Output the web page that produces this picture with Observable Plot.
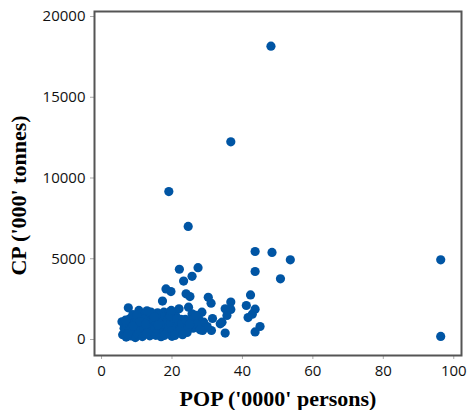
<!DOCTYPE html>
<html>
<head>
<meta charset="utf-8">
<script src="https://cdn.jsdelivr.net/npm/d3@7"></script>
<script src="https://cdn.jsdelivr.net/npm/@observablehq/plot@0.6"></script>
<style>
  html, body { margin: 0; padding: 0; background: #fff; }
  #chart { width: 469px; height: 410px; }
</style>
</head>
<body>
<div id="chart"></div>
<script>
// Population ('0000' persons) vs CP ('000' tonnes), one point per region
const pop = [
  48.1, 36.7, 19.1, 96.3, 96.3, 53.6, 50.8, 24.6, 43.6, 48.4, 43.6,
  22.1, 27.4, 25.7, 23.3, 18.3, 19.7, 24.0, 25.1, 30.3, 31.1, 17.3, 42.3, 41.1, 36.7, 36.7,
  43.6, 42.8, 41.6, 45.0, 43.6, 35.1, 31.2, 28.7, 24.3, 21.0,
  24.7, 28.5, 25.7, 17.7, 21.0, 35.1, 35.6, 34.2, 29.0, 26.6, 23.3, 20.5, 18.6, 17.2, 33.7,
  31.5, 27.5, 30.0, 26.0, 22.5,
  5.8, 6.0, 6.4, 7.0, 7.6, 7.2, 7.8, 8.1, 8.4, 8.6, 8.9, 9.1, 9.3, 9.6, 9.8, 10.1, 10.4,
  10.6, 10.9, 11.1, 11.3, 11.6, 11.8, 12.1, 12.4, 12.6, 12.9, 13.1, 13.4, 13.7, 13.9, 14.1,
  14.4, 14.6, 14.9, 15.1, 15.4, 15.6, 15.9, 16.1, 16.4, 16.7, 16.9, 17.1, 17.6, 17.9, 18.1,
  18.4, 18.7, 19.0, 19.3, 19.6, 19.9, 20.2, 21.4, 21.9, 22.2, 12.0, 14.0, 10.0, 8.0, 9.0,
  11.0, 13.0, 15.0, 16.0, 20.0, 6.8, 7.5, 12.5, 17.8, 19.5,
  19.8, 21.5, 22.8, 23.8, 24.5, 25.5, 27.0, 28.0, 26.8, 22.0, 20.8, 23.0, 25.0
];
const cp = [
  18160, 12240, 9160, 4935, 190, 4935, 3760, 7000, 5450, 5390, 4210,
  4350, 4450, 3910, 3620, 3130, 2970, 2830, 2660, 2610, 2250, 2380, 2760, 2105, 2320, 1860,
  1880, 1570, 1360, 805, 470, 400, 557, 557, 440, 390,
  2000, 1690, 1590, 1690, 1486, 1900, 1486, 1071, 1071, 1071, 867, 972, 662, 452, 972,
  1300, 1350, 800, 700, 1250,
  1100, 300, 700, 150, 1960, 900, 480, 1300, 220, 800, 1550, 400, 1050, 120, 650, 1200, 320,
  1800, 850, 520, 1400, 180, 1000, 700, 1600, 350, 1780, 1100, 600, 230, 1350, 900,
  450, 1500, 1200, 700, 260, 1000, 1650, 520, 1300, 820, 170, 1100, 600, 1450, 920,
  360, 1250, 720, 1700, 1000, 520, 1350, 800, 1150, 600, 1250, 1700, 1500, 600, 850,
  1100, 400, 1400, 900, 200, 1200, 350, 950, 250, 1450,
  1800, 1300, 1000, 1250, 800, 1200, 950, 600, 1500, 1900, 250, 300, 950
];

const xTicks = [0, 20, 40, 60, 80, 100];
const yTicks = [0, 5000, 10000, 15000, 20000];
const xTitle = ["POP ('0000' persons)"];
const yTitle = ["CP ('000' tonnes)"];

const points = pop.map((p, i) => ({pop: p, cp: cp[i]}));

const titleFont = {fontFamily: "'Liberation Serif', 'Times New Roman', serif", fontWeight: "bold", fontSize: 22, fill: "#000"};

const chart = Plot.plot({
  width: 469,
  height: 410,
  marginLeft: 94,
  marginRight: 8,
  marginTop: 11,
  marginBottom: 55,
  style: {fontFamily: "'Open Sans', sans-serif", fontSize: "15px", color: "#111", background: "#fff"},
  x: {domain: [-2, 102.2]},
  y: {domain: [-990, 20310]},
  marks: [
    Plot.axisX({ticks: xTicks, tickSize: 4, tickPadding: 6, stroke: "#aaa", fill: "#111", tickFormat: "d", label: null}),
    Plot.axisY({ticks: yTicks, tickSize: 4, tickPadding: 5, stroke: "#aaa", fill: "#111", tickFormat: "d", label: null}),
    Plot.dot(points, {x: "pop", y: "cp", r: 4.6, fill: "#0055a4", stroke: "none"}),
    Plot.frame({stroke: "#555", strokeWidth: 2}),
    Plot.text(xTitle, {text: d => d, frameAnchor: "bottom", textAnchor: "middle", lineAnchor: "bottom", dy: 50, ...titleFont}),
    Plot.text(yTitle, {text: d => d, frameAnchor: "left", textAnchor: "middle", lineAnchor: "middle", rotate: -90, dx: -76, dy: 12, ...titleFont})
  ]
});

document.getElementById("chart").appendChild(chart);
</script>
</body>
</html>
